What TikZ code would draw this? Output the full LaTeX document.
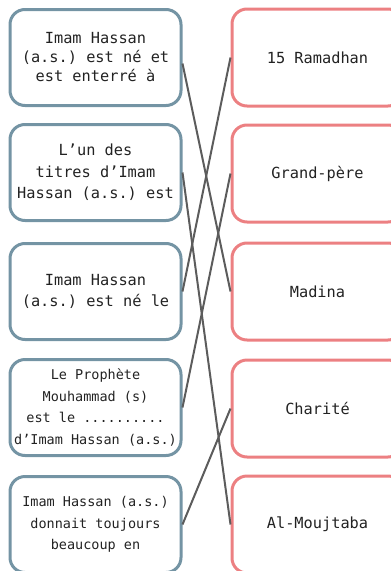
\documentclass[tikz,border=0pt]{standalone}
\usepackage{fontspec}
\setmonofont{DejaVu Sans Mono}
\definecolor{leftcol}{HTML}{7494A4}
\definecolor{rightcol}{HTML}{EC8082}
\definecolor{linkcol}{HTML}{5C5C5C}
\definecolor{txtcol}{HTML}{222222}
\tikzset{
  qbox/.style={draw=leftcol, line width=3pt, rounded corners=15pt, rectangle,
    minimum width=171pt, minimum height=96pt, align=center, inner sep=0pt,
    text=txtcol, font=\ttfamily\fontsize{15.3}{21.5}\selectfont},
  qboxt/.style={qbox, font=\ttfamily\fontsize{15.3}{19}\selectfont},
  qboxs/.style={qbox, font=\ttfamily\fontsize{13.5}{21.5}\selectfont},
  abox/.style={draw=rightcol, line width=3pt, rounded corners=15pt, rectangle,
    minimum width=171pt, minimum height=97pt, align=center, inner sep=0pt,
    text=txtcol, font=\ttfamily\fontsize{15.3}{19}\selectfont},
  link/.style={draw=linkcol, line width=2pt}
}
\begin{document}
\begin{tikzpicture}[x=1pt,y=-1pt]
\useasboundingbox (0,0) rectangle (391,571);
\clip (0,0) rectangle (391,571);
\node[qboxt] (L1) at (95.5,57.5) {Imam Hassan\\(a.s.) est né et\\est enterré à};
\node[qbox] (L2) at (95.5,172.5) {L’un des\\titres d’Imam\\Hassan (a.s.) est};
\node[qbox] (L3) at (95.5,291.5) {Imam Hassan\\(a.s.) est né le};
\node[qboxs] (L4) at (95.5,407.5) {Le Prophète\\Mouhammad (s)\\est le ..........\\d’Imam Hassan (a.s.)};
\node[qboxs] (L5) at (95.5,524.5) {Imam Hassan (a.s.)\\donnait toujours\\beaucoup en};
\node[abox] (R1) at (317.5,57.5) {15 Ramadhan};
\node[abox] (R2) at (317.5,173.5) {Grand-père};
\node[abox] (R3) at (317.5,291.5) {Madina};
\node[abox] (R4) at (317.5,408.5) {Charité};
\node[abox] (R5) at (317.5,524.5) {Al-Moujtaba};
\draw[link] ([yshift=-6pt]L1.east) -- (R3.west);
\draw[link] (L2.east) -- (R5.west);
\draw[link] (L3.east) -- (R1.west);
\draw[link] (L4.east) -- (R2.west);
\draw[link] (L5.east) -- (R4.west);
\end{tikzpicture}
\end{document}
